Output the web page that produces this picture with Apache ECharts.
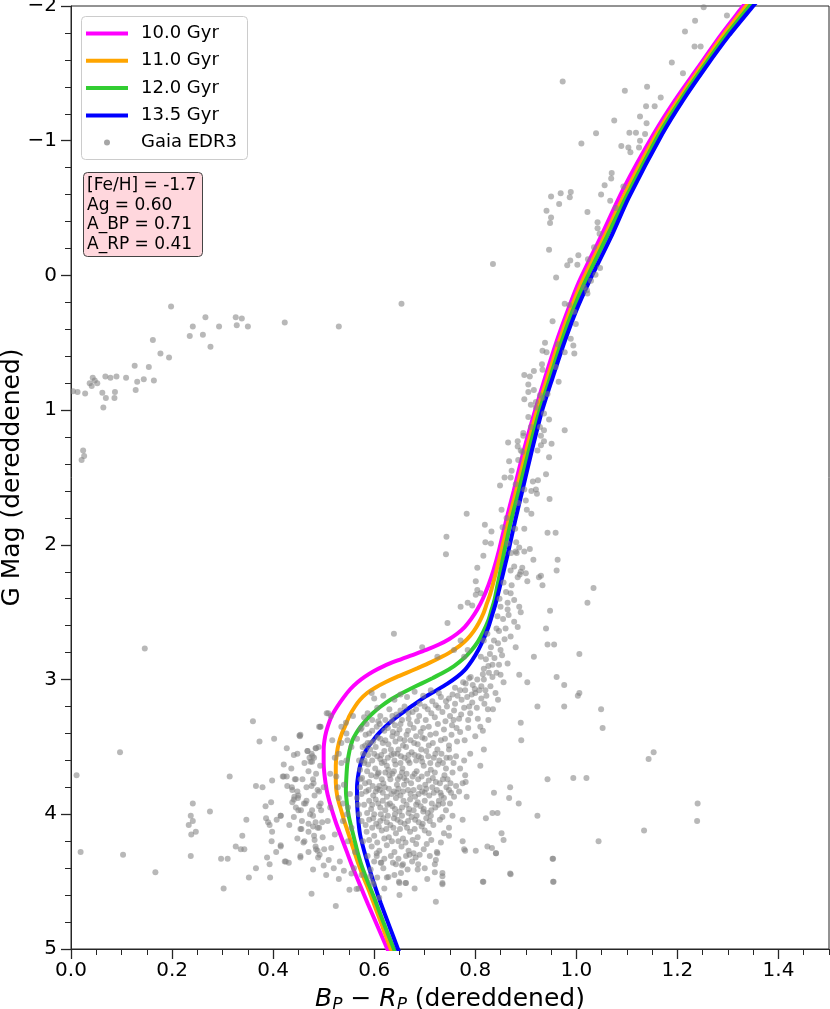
<!DOCTYPE html>
<html><head><meta charset="utf-8">
<script src="https://cdn.jsdelivr.net/npm/echarts@6/dist/echarts.min.js"></script>
<style>html,body{margin:0;padding:0;background:#fff}#c{width:830px;height:1009px}</style>
</head><body><div id="c"></div>
<script>
const ageLabels = ['10.0 Gyr','11.0 Gyr','12.0 Gyr','13.5 Gyr'];
const ageColors = ['#ff00ff','#ffa500','#32cd32','#0000ff'];
const scatterLabel = 'Gaia EDR3';
const infoLines = ['[Fe/H] = -1.7','Ag = 0.60','A_BP = 0.71','A_RP = 0.41'];
const xTicks = [0,0.2,0.4,0.6,0.8,1.0,1.2,1.4];
const yTicks = [-2,-1,0,1,2,3,4,5];

const iso10 = [[0.643,5.15],[0.626,5.0],[0.603,4.80],[0.588,4.67],[0.578,4.58],[0.567,4.48],[0.556,4.38],[0.545,4.27],[0.534,4.16],[0.525,4.07],[0.518,3.99],[0.511,3.90],[0.506,3.82],[0.502,3.72],[0.500,3.62],[0.500,3.52],[0.503,3.42],[0.508,3.35],[0.516,3.27],[0.527,3.20],[0.540,3.13],[0.553,3.07],[0.567,3.02],[0.581,2.98],[0.598,2.94],[0.619,2.90],[0.645,2.86],[0.674,2.82],[0.703,2.78],[0.728,2.74],[0.748,2.70],[0.764,2.66],[0.779,2.61],[0.792,2.55],[0.804,2.48],[0.815,2.40],[0.826,2.30],[0.836,2.19],[0.847,2.04],[0.861,1.82],[0.876,1.60],[0.896,1.30],[0.917,1.02],[0.938,0.76],[0.960,0.50],[0.983,0.26],[1.005,0.05],[1.050,-0.30],[1.094,-0.65],[1.153,-1.05],[1.195,-1.30],[1.240,-1.54],[1.285,-1.78],[1.330,-2.0],[1.350,-2.1]];
const iso11 = [[0.650,5.15],[0.633,5.0],[0.611,4.78],[0.600,4.67],[0.589,4.56],[0.578,4.46],[0.568,4.36],[0.560,4.27],[0.553,4.19],[0.546,4.11],[0.540,4.04],[0.533,3.95],[0.527,3.87],[0.524,3.76],[0.524,3.64],[0.526,3.55],[0.530,3.47],[0.536,3.40],[0.542,3.35],[0.551,3.27],[0.562,3.20],[0.572,3.15],[0.586,3.10],[0.602,3.06],[0.622,3.02],[0.645,2.98],[0.664,2.95],[0.686,2.915],[0.707,2.88],[0.729,2.84],[0.749,2.80],[0.769,2.75],[0.784,2.70],[0.797,2.64],[0.807,2.58],[0.816,2.51],[0.823,2.435],[0.830,2.36],[0.842,2.19],[0.852,2.04],[0.866,1.82],[0.881,1.60],[0.901,1.30],[0.921,1.02],[0.943,0.76],[0.965,0.50],[0.988,0.26],[1.011,0.05],[1.057,-0.30],[1.098,-0.62],[1.159,-1.05],[1.201,-1.30],[1.245,-1.54],[1.290,-1.78],[1.336,-2.0],[1.357,-2.1]];
const iso12 = [[0.655,5.15],[0.639,5.0],[0.618,4.80],[0.608,4.70],[0.599,4.61],[0.587,4.50],[0.575,4.38],[0.567,4.28],[0.561,4.19],[0.555,4.10],[0.550,4.02],[0.546,3.92],[0.544,3.82],[0.545,3.72],[0.547,3.62],[0.551,3.53],[0.557,3.45],[0.564,3.40],[0.573,3.35],[0.584,3.30],[0.597,3.25],[0.613,3.20],[0.632,3.15],[0.650,3.11],[0.671,3.07],[0.693,3.03],[0.715,2.99],[0.736,2.95],[0.758,2.90],[0.775,2.85],[0.791,2.79],[0.805,2.72],[0.816,2.645],[0.826,2.56],[0.832,2.485],[0.838,2.41],[0.844,2.30],[0.850,2.19],[0.858,2.04],[0.871,1.82],[0.886,1.60],[0.906,1.30],[0.926,1.02],[0.948,0.76],[0.970,0.50],[0.993,0.26],[1.017,0.05],[1.062,-0.30],[1.101,-0.60],[1.164,-1.05],[1.206,-1.30],[1.250,-1.54],[1.296,-1.78],[1.343,-2.0],[1.364,-2.1]];
const iso135 = [[0.662,5.15],[0.647,5.0],[0.630,4.83],[0.613,4.66],[0.601,4.53],[0.590,4.40],[0.580,4.27],[0.572,4.15],[0.568,4.02],[0.566,3.89],[0.566,3.80],[0.568,3.72],[0.572,3.64],[0.578,3.57],[0.588,3.50],[0.598,3.45],[0.609,3.40],[0.622,3.35],[0.637,3.30],[0.655,3.25],[0.677,3.19],[0.700,3.13],[0.723,3.08],[0.745,3.03],[0.764,2.98],[0.779,2.93],[0.794,2.855],[0.806,2.78],[0.817,2.695],[0.826,2.61],[0.833,2.525],[0.840,2.44],[0.852,2.26],[0.859,2.15],[0.866,2.04],[0.879,1.82],[0.893,1.60],[0.912,1.30],[0.931,1.02],[0.953,0.76],[0.976,0.50],[1.000,0.26],[1.025,0.05],[1.068,-0.28],[1.104,-0.58],[1.170,-1.05],[1.211,-1.30],[1.255,-1.54],[1.302,-1.78],[1.350,-2.0],[1.372,-2.1]];

const gaiaHB = [[0.004,0.86],[0.013,0.865],[0.028,0.877],[0.037,0.80],[0.041,0.82],[0.043,0.76],[0.047,0.78],[0.052,0.80],[0.062,0.87],[0.064,0.98],[0.068,0.75],[0.069,0.91],[0.078,0.76],[0.086,0.91],[0.087,0.865],[0.090,0.75],[0.109,0.76],[0.126,0.67],[0.128,0.85],[0.131,0.79],[0.144,0.77],[0.154,0.68],[0.162,0.48],[0.164,0.78],[0.177,0.58],[0.194,0.61],[0.198,0.23],[0.235,0.45],[0.241,0.38],[0.261,0.44],[0.266,0.31],[0.276,0.53],[0.293,0.38],[0.326,0.31],[0.328,0.37],[0.338,0.32],[0.350,0.38],[0.423,0.35],[0.530,0.38],[0.654,0.21],[0.021,1.37],[0.024,1.30],[0.026,1.34]];

const gaiaUpperRGB = [[1.252,-1.99],[1.298,-1.93],[1.235,-1.89],[1.215,-1.81],[1.234,-1.70],[1.246,-1.70],[1.189,-1.58],[1.211,-1.50],[0.973,-1.44],[1.096,-1.37],[1.140,-1.40],[1.167,-1.32],[1.138,-1.255],[1.155,-1.255],[1.126,-1.18],[1.075,-1.15],[1.139,-1.13],[1.039,-1.055],[1.105,-1.06],[1.118,-1.06],[1.136,-1.05],[1.010,-0.98],[1.126,-1.0],[1.089,-0.96],[1.103,-0.95],[1.107,-0.915],[1.124,-0.95],[1.070,-0.76],[1.069,-0.72],[1.056,-0.67],[1.093,-0.66],[0.950,-0.585],[0.969,-0.61],[0.989,-0.62],[0.987,-0.58],[0.966,-0.53],[1.049,-0.60],[1.067,-0.555],[0.941,-0.48],[1.022,-0.47],[0.950,-0.43],[0.948,-0.39],[1.078,-0.50],[1.042,-0.395],[1.042,-0.35],[1.046,-0.31],[1.035,-0.21],[0.946,-0.19],[0.835,-0.085],[0.988,-0.11],[1.004,-0.15],[0.982,-0.075],[1.002,-0.08],[0.960,0.015],[1.047,-0.055],[1.023,-0.12],[1.038,-0.005],[1.029,0.04],[1.021,0.11],[1.022,0.135],[1.015,0.087]];

const gaiaLowerRGB = [[0.977,0.21],[0.986,0.22],[0.953,0.34],[0.996,0.27],[0.999,0.36],[0.989,0.47],[0.994,0.52],[0.996,0.58],[0.938,0.50],[0.933,0.56],[0.941,0.57],[0.963,0.51],[0.977,0.57],[0.959,0.68],[0.965,0.79],[0.932,0.66],[0.933,0.70],[0.916,0.71],[0.897,0.74],[0.908,0.75],[0.905,0.81],[0.905,0.865],[0.916,0.85],[0.897,0.92],[0.910,0.96],[0.928,0.89],[0.920,0.94],[0.933,0.91],[0.943,0.88],[0.936,1.025],[0.946,1.07],[0.977,1.15],[0.928,1.125],[0.936,1.15],[0.930,1.19],[0.895,1.17],[0.895,1.19],[0.910,1.125],[0.865,1.24],[0.884,1.23],[0.884,1.27],[0.893,1.31],[0.923,1.30],[0.936,1.23],[0.951,1.25],[0.930,1.26],[0.946,1.35],[0.867,1.38],[0.885,1.37],[0.858,1.50],[0.870,1.50],[0.849,1.56],[0.940,1.475],[0.914,1.53],[0.924,1.52],[0.911,1.60],[0.920,1.59],[0.922,1.62],[0.947,1.66],[0.897,1.59],[0.900,1.67],[0.885,1.69],[0.852,1.74],[0.902,1.74],[0.911,1.77],[0.783,1.77],[0.819,1.85],[0.832,1.90],[0.854,1.87],[0.879,1.88],[0.897,1.88],[0.943,1.91],[0.959,1.91],[0.743,1.94],[0.820,1.98],[0.831,1.99],[0.864,1.99],[0.881,1.98],[0.887,2.02],[0.897,2.05],[0.908,2.03],[0.915,2.11],[0.742,2.07],[0.816,2.08],[0.804,2.17],[0.893,2.17],[0.963,2.11],[0.961,2.19],[0.888,2.22],[0.930,2.23],[0.882,2.06],[0.890,1.30],[0.872,1.45],[0.880,1.55],[0.862,1.80],[0.905,1.05],[0.920,0.98]];

const gaiaSubgiant = [[0.871,2.06],[0.880,2.05],[0.877,2.16],[0.890,2.20],[0.900,2.21],[0.903,2.27],[0.926,2.24],[0.933,2.30],[0.884,2.24],[0.870,2.19],[1.034,2.32],[1.022,2.43],[0.801,2.27],[0.804,2.335],[0.801,2.37],[0.811,2.36],[0.794,2.45],[0.785,2.43],[0.771,2.46],[0.745,2.58],[0.870,2.36],[0.877,2.41],[0.864,2.43],[0.850,2.46],[0.864,2.48],[0.887,2.46],[0.890,2.50],[0.844,2.53],[0.877,2.57],[0.884,2.61],[0.847,2.64],[0.860,2.62],[0.870,2.68],[0.824,2.66],[0.837,2.71],[0.817,2.71],[0.831,2.76],[0.850,2.78],[0.880,2.76],[0.916,2.83],[0.940,2.62],[0.948,2.49],[0.943,2.74],[0.956,2.74],[1.006,2.81],[0.639,2.66],[0.695,2.76],[0.725,2.83],[0.758,2.78],[0.778,2.83],[0.771,2.71],[0.785,2.78],[0.811,2.83],[0.821,2.85],[0.834,2.89],[0.847,2.89],[0.864,2.88],[0.817,2.92],[0.827,2.95],[0.850,2.965],[0.804,3.00],[0.817,3.00],[0.834,2.98],[0.791,2.98],[0.781,3.03],[0.887,2.965],[0.903,3.02],[0.961,2.98],[0.976,3.04],[1.006,3.10],[1.003,3.12],[0.923,3.20],[0.976,3.20],[0.890,3.32],[0.891,3.45],[0.817,3.52],[0.810,3.64],[0.780,3.71],[0.943,3.74],[0.994,3.73],[1.020,3.73],[0.869,3.80],[0.867,3.88],[0.886,3.92],[0.923,4.01],[0.837,3.84],[0.834,3.99],[0.844,3.99],[0.821,4.03],[0.852,4.14],[0.856,4.19],[0.824,4.24],[0.833,4.25],[0.841,4.29],[1.044,4.20],[0.953,4.33],[0.955,4.50],[0.869,4.44],[0.815,4.50],[0.775,4.20],[0.778,4.26],[0.775,3.77],[0.758,3.87],[0.783,3.87],[0.748,3.82],[0.755,4.01],[0.775,4.04],[0.748,4.10],[0.735,4.02],[0.738,4.14],[0.748,4.16],[0.725,4.29],[0.722,4.34],[0.732,4.21],[0.735,4.435],[0.735,4.51],[0.722,4.65],[0.686,4.41],[0.666,4.41],[0.662,4.51],[0.649,4.50],[0.643,4.37],[0.613,4.36],[0.625,4.47],[0.606,4.47],[0.593,4.41],[0.587,4.31],[0.820,3.08],[0.845,3.15],[0.835,3.22],[0.856,3.02],[0.826,3.30],[0.810,3.35],[0.842,2.95]];

const gaiaTurnoffLeft = [[0.146,2.77],[0.097,3.54],[0.011,3.71],[0.019,4.28],[0.103,4.30],[0.167,4.43],[0.241,3.92],[0.237,4.01],[0.241,4.05],[0.233,4.08],[0.238,4.15],[0.247,4.13],[0.237,4.31],[0.275,3.98],[0.302,4.55],[0.297,4.33],[0.310,4.33],[0.314,3.72],[0.326,4.24],[0.336,4.26],[0.343,4.26],[0.339,4.16],[0.347,4.04],[0.352,4.47],[0.360,3.31],[0.366,3.79],[0.366,4.40],[0.373,3.46],[0.379,3.80],[0.385,3.94],[0.386,4.03],[0.388,4.32],[0.390,4.06],[0.393,4.08],[0.393,4.37],[0.394,4.47],[0.396,3.91],[0.397,4.20],[0.398,3.75],[0.398,4.13],[0.402,3.44],[0.406,4.28],[0.407,4.04],[0.415,4.24],[0.415,4.01],[0.419,3.72],[0.421,3.63],[0.423,4.35],[0.427,3.72],[0.427,3.51],[0.431,4.36],[0.437,3.80],[0.441,3.89],[0.441,3.56],[0.442,3.87],[0.445,3.74],[0.448,3.55],[0.448,3.83],[0.449,3.88],[0.450,3.97],[0.453,3.42],[0.454,4.32],[0.456,4.11],[0.460,4.21],[0.464,3.92],[0.468,3.53],[0.472,3.58],[0.476,3.55],[0.477,3.61],[0.479,3.74],[0.479,4.41],[0.480,3.77],[0.481,3.58],[0.477,3.97],[0.479,4.01],[0.479,4.09],[0.481,4.16],[0.484,4.06],[0.485,3.51],[0.485,4.26],[0.488,4.27],[0.489,4.32],[0.490,3.50],[0.491,3.35],[0.491,3.83],[0.491,3.94],[0.491,4.10],[0.476,4.59],[0.524,4.68],[0.551,4.56],[0.569,4.55],[0.425,4.35],[0.415,4.23],[0.454,4.31],[0.484,4.24],[0.501,4.26],[0.532,4.35],[0.454,4.11],[0.441,4.02],[0.497,4.06],[0.494,3.92],[0.461,3.92],[0.415,4.01],[0.438,3.82],[0.488,3.82],[0.443,3.74],[0.421,3.72],[0.452,3.415],[0.493,3.35],[0.514,3.27],[0.506,3.25],[0.555,4.44],[0.565,4.555],[0.592,4.46],[0.599,4.52],[0.605,4.29],[0.614,4.36],[0.628,4.465],[0.637,4.36],[0.650,4.51],[0.653,4.435],[0.657,4.37],[0.663,4.51],[0.670,4.30],[0.682,4.32],[0.687,4.37],[0.710,4.31],[0.720,4.37],[0.720,4.43],[0.735,4.46],[0.735,4.52],[0.724,4.28],[0.780,4.27],[0.801,4.27],[0.816,4.50],[0.841,4.29],[0.870,4.445],[0.954,4.33],[0.954,4.50],[1.049,3.22],[1.052,3.36],[1.153,3.54],[1.143,3.59],[1.240,3.92],[1.239,4.05],[1.134,4.12]];

const gaiaCore = [[0.600,3.14],[0.618,3.12],[0.640,3.15],[0.652,3.11],[0.665,3.13],[0.680,3.09],[0.697,3.12],[0.712,3.08],[0.728,3.10],[0.755,3.11],[0.770,3.08],[0.784,3.13],[0.800,3.10],[0.742,3.16],[0.722,3.19],[0.706,3.22],[0.690,3.18],[0.676,3.24],[0.660,3.20],[0.644,3.26],[0.630,3.22],[0.612,3.27],[0.596,3.30],[0.580,3.28],[0.760,3.18],[0.778,3.21],[0.794,3.17],[0.812,3.14],[0.735,3.24],[0.750,3.27],[0.768,3.29],[0.720,3.28],[0.702,3.30],[0.685,3.31],[0.668,3.29],[0.652,3.33],[0.635,3.31],[0.790,3.25],[0.805,3.29],[0.825,3.22],[0.840,3.10],[0.830,3.05],[0.812,3.05],[0.795,3.04],
[0.575,3.36],[0.590,3.40],[0.605,3.35],[0.620,3.38],[0.636,3.42],[0.650,3.37],[0.664,3.41],[0.678,3.36],[0.692,3.39],[0.708,3.35],[0.722,3.40],[0.738,3.37],[0.754,3.34],[0.770,3.39],[0.786,3.36],[0.598,3.46],[0.612,3.44],[0.628,3.48],[0.642,3.46],[0.657,3.49],[0.672,3.45],[0.686,3.48],[0.700,3.44],[0.716,3.47],[0.732,3.45],[0.748,3.49],[0.764,3.46],[0.582,3.49],[0.566,3.44],[0.800,3.42],[0.815,3.38],[0.585,3.33],[0.645,3.40],[0.660,3.45],[0.695,3.43],
[0.578,3.55],[0.592,3.52],[0.606,3.57],[0.620,3.53],[0.634,3.56],[0.648,3.52],[0.660,3.58],[0.674,3.54],[0.688,3.57],[0.703,3.53],[0.718,3.58],[0.733,3.55],[0.748,3.52],[0.762,3.57],[0.588,3.63],[0.602,3.66],[0.615,3.62],[0.628,3.67],[0.642,3.63],[0.656,3.66],[0.670,3.62],[0.684,3.68],[0.698,3.64],[0.712,3.67],[0.726,3.63],[0.742,3.66],[0.757,3.62],[0.572,3.67],[0.612,3.59],[0.640,3.60],[0.668,3.56],[0.695,3.61],[0.625,3.64],[0.655,3.69],[0.778,3.60],[0.790,3.55],
[0.576,3.73],[0.590,3.76],[0.604,3.72],[0.618,3.77],[0.632,3.74],[0.645,3.78],[0.659,3.73],[0.673,3.77],[0.687,3.74],[0.701,3.78],[0.716,3.73],[0.730,3.77],[0.745,3.74],[0.762,3.79],[0.584,3.83],[0.598,3.86],[0.611,3.82],[0.625,3.87],[0.639,3.83],[0.652,3.86],[0.667,3.82],[0.681,3.87],[0.695,3.83],[0.709,3.86],[0.724,3.82],[0.738,3.88],[0.752,3.84],[0.566,3.88],[0.572,3.80],[0.610,3.79],[0.648,3.81],[0.690,3.80],[0.630,3.71],[0.664,3.70],
[0.580,3.93],[0.594,3.96],[0.608,3.92],[0.622,3.97],[0.636,3.94],[0.650,3.98],[0.664,3.93],[0.678,3.97],[0.692,3.94],[0.706,3.99],[0.721,3.95],[0.736,3.92],[0.590,4.04],[0.604,4.07],[0.618,4.03],[0.632,4.08],[0.646,4.04],[0.660,4.07],[0.674,4.02],[0.688,4.06],[0.703,4.03],[0.717,4.08],[0.575,4.05],[0.613,4.00],[0.655,4.01],[0.730,4.04],
[0.585,4.13],[0.600,4.16],[0.615,4.12],[0.629,4.17],[0.643,4.14],[0.657,4.18],[0.671,4.13],[0.686,4.17],[0.700,4.12],[0.713,4.19],[0.595,4.24],[0.610,4.27],[0.625,4.23],[0.640,4.28],[0.654,4.24],[0.668,4.27],[0.683,4.22],[0.698,4.26],[0.578,4.20],[0.635,4.20],[0.690,4.30],
[0.462,3.62],[0.470,3.68],[0.458,3.74],[0.476,3.79],[0.485,3.70],[0.493,3.64],[0.450,3.86],[0.466,3.90],[0.482,3.86],[0.495,3.97],[0.473,4.00],[0.457,4.05],[0.488,4.10],[0.470,4.13],[0.498,4.17],[0.462,4.20],[0.492,4.30],[0.510,4.34],[0.520,4.40],[0.505,4.45],[0.530,4.48],[0.540,4.42],[0.445,3.95],[0.432,4.08],[0.436,3.66],[0.500,3.80],
[0.530,3.55],[0.545,3.60],[0.525,3.72],[0.540,3.78],[0.552,3.85],[0.530,3.88],[0.548,3.95],[0.538,4.05],[0.555,4.10],[0.548,4.20],[0.562,4.28],[0.560,4.40],[0.575,4.45],[0.555,3.50],[0.545,3.40],[0.535,3.35],
[0.600,4.35],[0.618,4.40],[0.640,4.45],[0.655,4.38],[0.675,4.35],[0.700,4.40],[0.620,4.55],[0.650,4.60],[0.680,4.55],[0.610,4.62],[0.705,4.48],[0.595,4.50],
[0.595,3.10],[0.558,3.27],[0.509,3.25],[0.494,3.35],[0.517,3.45],[0.468,3.53],[0.478,3.57],[0.484,3.51],[0.474,3.61],[0.454,3.41],[0.544,3.32],[0.547,3.45],[0.587,3.25],[0.606,3.21],[0.573,3.37],[0.587,3.47],[0.580,3.62],[0.573,3.74]];

const gaiaCoreExtra = [[0.583,3.41],[0.596,3.38],[0.611,3.33],[0.627,3.36],[0.641,3.34],[0.655,3.30],[0.671,3.33],[0.689,3.27],[0.713,3.25],[0.727,3.21],[0.744,3.20],[0.758,3.23],[0.773,3.15],[0.788,3.20],[0.803,3.21],[0.818,3.18],[0.760,3.06],[0.776,3.02],[0.788,2.99],[0.799,3.07],[0.815,2.96],[0.826,2.90],[0.838,2.84],[0.853,2.82],[0.845,2.73],[0.858,2.70],[0.829,2.81],[0.842,2.62],[0.855,2.55],[0.866,2.52],[0.861,2.35],[0.872,2.30],[0.856,2.28],[0.848,2.40],
[0.603,3.50],[0.617,3.47],[0.633,3.52],[0.646,3.55],[0.663,3.50],[0.679,3.47],[0.693,3.52],[0.708,3.49],[0.725,3.52],[0.740,3.44],[0.753,3.41],[0.743,3.58],[0.729,3.60],[0.711,3.62],[0.683,3.60],[0.652,3.62],[0.620,3.61],[0.596,3.60],[0.586,3.68],[0.609,3.69],[0.636,3.70],[0.647,3.74],[0.676,3.72],[0.705,3.70],[0.720,3.69],[0.739,3.71],[0.755,3.69],[0.770,3.66],[0.781,3.76],[0.768,3.83],[0.615,3.74],[0.597,3.79],[0.582,3.77],[0.603,3.83],[0.621,3.80],[0.634,3.85],[0.659,3.78],[0.678,3.82],[0.700,3.84],[0.715,3.80],[0.731,3.84],[0.743,3.80],[0.590,3.90],[0.603,3.89],[0.617,3.90],[0.631,3.92],[0.643,3.88],[0.658,3.90],[0.671,3.89],[0.686,3.91],[0.700,3.90],[0.714,3.92],[0.728,3.90],[0.750,3.92],[0.586,3.99],[0.600,4.00],[0.627,4.01],[0.641,4.00],[0.668,3.99],[0.684,4.01],[0.697,3.98],[0.712,4.01],[0.742,3.97],[0.596,4.10],[0.609,4.09],[0.624,4.11],[0.638,4.10],[0.651,4.11],[0.665,4.10],[0.680,4.11],[0.694,4.09],[0.708,4.14],[0.590,4.19],[0.606,4.21],[0.620,4.18],[0.648,4.20],[0.662,4.21],[0.676,4.19],[0.704,4.22],[0.605,4.31],[0.620,4.33],[0.633,4.31],[0.648,4.33],[0.663,4.31],[0.678,4.29],
[0.535,3.62],[0.528,3.80],[0.538,3.92],[0.546,4.00],[0.535,3.47],[0.522,3.58],[0.513,3.70],[0.466,3.80],[0.455,3.97],[0.470,4.07],[0.482,4.19],[0.515,4.25],[0.522,4.15],[0.508,4.05],[0.513,3.95],[0.470,4.28],[0.500,4.38],[0.448,4.18],[0.438,3.91],[0.428,3.79]];

const gaiaCoreDense = [[0.592,3.47],[0.607,3.43],[0.622,3.45],[0.637,3.39],[0.651,3.44],[0.667,3.38],[0.683,3.42],[0.697,3.36],[0.711,3.41],[0.726,3.33],[0.741,3.31],[0.757,3.30],[0.772,3.26],[0.786,3.30],[0.763,3.36],[0.779,3.45],[0.600,3.55],[0.614,3.56],[0.627,3.58],[0.639,3.55],[0.653,3.57],[0.667,3.60],[0.680,3.56],[0.693,3.58],[0.707,3.57],[0.721,3.55],[0.736,3.62],[0.750,3.58],[0.594,3.71],[0.607,3.70],[0.622,3.69],[0.639,3.68],[0.651,3.72],[0.664,3.75],[0.680,3.70],[0.694,3.72],[0.708,3.75],[0.722,3.76],[0.736,3.74],[0.751,3.77],[0.589,3.82],[0.606,3.81],[0.617,3.84],[0.629,3.81],[0.645,3.84],[0.657,3.83],[0.672,3.85],[0.688,3.85],[0.703,3.81],[0.718,3.84],[0.733,3.86],[0.596,3.93],[0.612,3.95],[0.626,3.93],[0.641,3.96],[0.655,3.95],[0.669,3.96],[0.683,3.93],[0.698,3.96],[0.713,3.97],[0.727,3.93],[0.598,4.03],[0.612,4.05],[0.625,4.06],[0.639,4.03],[0.652,4.06],[0.667,4.05],[0.681,4.04],[0.696,4.07],[0.710,4.05],[0.583,4.08],[0.570,4.00],[0.568,3.93],[0.575,3.85],[0.581,3.60],[0.577,3.50],[0.588,3.56],[0.570,3.60],[0.700,3.20],[0.715,3.16],[0.732,3.13],[0.748,3.14],[0.765,3.12],[0.780,3.08],[0.793,3.11],[0.808,3.08],[0.822,3.12],[0.683,3.22],[0.668,3.25],[0.652,3.23],[0.636,3.27],[0.622,3.30],[0.608,3.31]];

const gaia = [].concat(gaiaHB, gaiaUpperRGB, gaiaLowerRGB, gaiaSubgiant, gaiaTurnoffLeft, gaiaCore, gaiaCoreExtra, gaiaCoreDense);
const isochrones = [iso10, iso11, iso12, iso135];

const FONT = 'DejaVu Sans';
const AX = '#262626';
const chart = echarts.init(document.getElementById('c'), null, {renderer: 'canvas'});

const lineSeries = isochrones.map((d, i) => ({
  name: ageLabels[i], type: 'line', data: d, smooth: 0.25, symbol: 'none', showSymbol: false,
  lineStyle: {width: 4, color: ageColors[i]}, itemStyle: {color: ageColors[i]},
  z: 2, clip: true
}));

const option = {
  animation: false,
  backgroundColor: '#ffffff',
  grid: {left: 71, right: 1, top: 6, bottom: 60, show: true, borderColor: AX, borderWidth: 1,
         backgroundColor: 'transparent', containLabel: false, outerBoundsMode: 'none'},
  xAxis: [{
    type: 'value', min: 0, max: 1.5, interval: 0.2, position: 'bottom',
    axisLine: {show: true, onZero: false, lineStyle: {color: AX, width: 1}},
    axisTick: {show: true, length: 10, inside: false, lineStyle: {color: AX, width: 1.3}, customValues: xTicks},
    axisLabel: {show: true, customValues: xTicks, formatter: v => (Math.abs(v - 1.5) < 1e-9 ? '' : v.toFixed(1)), fontSize: 20, color: '#000', fontFamily: FONT, margin: 12},
    splitLine: {show: false},
    name: '{i|B}{s|P}{n| \u2212 }{i|R}{s|P}{n| (dereddened)}',
    nameLocation: 'middle', nameGap: 36, nameMoveOverlap: false,
    nameTextStyle: {fontSize: 25, color: '#000', fontFamily: FONT, rich: {
      i: {fontStyle: 'italic', fontSize: 25, color: '#000', fontFamily: FONT},
      s: {fontStyle: 'italic', fontSize: 17, color: '#000', fontFamily: FONT, padding: [12, 0, 0, 0]},
      n: {fontSize: 25, color: '#000', fontFamily: FONT}
    }}
  }, {
    type: 'value', min: 0, max: 1.5, interval: 0.05, position: 'bottom', gridIndex: 0,
    axisLine: {show: false, onZero: false},
    axisTick: {show: true, length: 6, inside: false, lineStyle: {color: AX, width: 1}},
    axisLabel: {show: false}, splitLine: {show: false}
  }],
  yAxis: {
    type: 'value', min: -2, max: 5, interval: 1, inverse: true,
    axisLine: {show: true, onZero: false, lineStyle: {color: AX, width: 1}},
    axisTick: {show: true, length: 10, lineStyle: {color: AX, width: 1.3}},
    minorTick: {show: true, splitNumber: 5, length: 6, lineStyle: {color: AX, width: 1}},
    axisLabel: {formatter: v => (v < 0 ? '\u2212' + (-v) : String(v)), fontSize: 20, color: '#000', fontFamily: FONT, margin: 14},
    splitLine: {show: false},
    name: 'G Mag (dereddened)', nameLocation: 'middle', nameGap: 46, nameMoveOverlap: false,
    nameTextStyle: {fontSize: 25, color: '#000', fontFamily: FONT}
  },
  legend: [{
    data: ageLabels, orient: 'vertical', left: 86, top: 23.5, padding: 0,
    icon: 'rect', itemWidth: 42, itemHeight: 4, itemGap: 7.3,
    textStyle: {fontSize: 18, fontFamily: FONT, color: '#000', lineHeight: 20, padding: [0, 0, 0, 8]},
    z: 20
  }, {
    data: [{name: scatterLabel, icon: 'circle', itemStyle: {color: '#a6a6a6', opacity: 1}}],
    orient: 'vertical', left: 104, top: 132.5, padding: 0,
    itemWidth: 6, itemHeight: 6,
    textStyle: {fontSize: 18, fontFamily: FONT, color: '#000', lineHeight: 20, padding: [0, 0, 0, 26]},
    z: 20
  }],
  title: {
    text: infoLines.join('\n'), left: 83, top: 172,
    padding: [4, 6, 3, 4], backgroundColor: '#ffd7dd', borderColor: '#444', borderWidth: 1, borderRadius: 4,
    textStyle: {fontSize: 17, fontWeight: 'normal', color: '#000', fontFamily: FONT, lineHeight: 19.5},
    z: 20
  },
  graphic: [{
    type: 'rect', left: 81, top: 16, z: 15,
    shape: {width: 166, height: 143, r: 4},
    style: {fill: 'rgba(255,255,255,0.8)', stroke: '#cccccc', lineWidth: 1}
  }],
  series: lineSeries.concat([{
    name: scatterLabel, type: 'scatter', data: gaia, symbolSize: 6,
    itemStyle: {color: '#808080', opacity: 0.56}, z: 3
  }])
};
chart.setOption(option);
</script></body></html>
